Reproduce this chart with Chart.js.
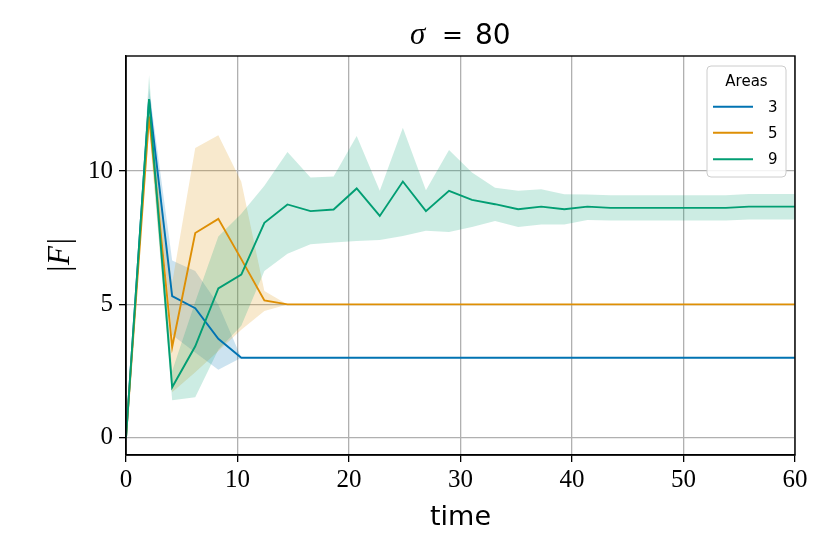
<!DOCTYPE html>
<html><head><meta charset="utf-8">
<script src="https://cdn.jsdelivr.net/npm/chart.js@4.4.0/dist/chart.umd.min.js"></script>
<style>html,body{margin:0;padding:0;background:#fff;}#wrap{width:830px;height:554px;}</style>
</head><body><div id="wrap"><canvas id="c" width="830" height="554"></canvas></div>
<script>
// ---- data ----
const times = [0, 2.07, 4.14, 6.21, 8.28, 10.34, 12.41, 14.48, 16.55, 18.62, 20.69, 22.76, 24.83, 26.9, 28.97,
  31.03, 33.1, 35.17, 37.24, 39.31, 41.38, 43.45, 45.52, 47.59, 49.66, 51.72, 53.79, 55.86, 57.93, 60];
const seriesLabels = ['3', '5', '9'];

const mean3  = [0, 12.7, 5.31, 4.86, 3.71, 3.0, 3.0, 3.0, 3.0, 3.0, 3.0, 3.0, 3.0, 3.0, 3.0, 3.0, 3.0, 3.0, 3.0, 3.0, 3.0, 3.0, 3.0, 3.0, 3.0, 3.0, 3.0, 3.0, 3.0, 3.0];
const upper3 = [0, 13.1, 6.65, 6.25, 5.0, 3.0, 3.0, 3.0, 3.0, 3.0, 3.0, 3.0, 3.0, 3.0, 3.0, 3.0, 3.0, 3.0, 3.0, 3.0, 3.0, 3.0, 3.0, 3.0, 3.0, 3.0, 3.0, 3.0, 3.0, 3.0];
const lower3 = [0, 12.3, 3.85, 3.2, 2.55, 3.0, 3.0, 3.0, 3.0, 3.0, 3.0, 3.0, 3.0, 3.0, 3.0, 3.0, 3.0, 3.0, 3.0, 3.0, 3.0, 3.0, 3.0, 3.0, 3.0, 3.0, 3.0, 3.0, 3.0, 3.0];

const mean5  = [0, 12.05, 3.4, 7.68, 8.21, 6.7, 5.15, 5.0, 5.0, 5.0, 5.0, 5.0, 5.0, 5.0, 5.0, 5.0, 5.0, 5.0, 5.0, 5.0, 5.0, 5.0, 5.0, 5.0, 5.0, 5.0, 5.0, 5.0, 5.0, 5.0];
const upper5 = [0, 12.5, 5.8, 10.87, 11.35, 9.6, 5.5, 5.0, 5.0, 5.0, 5.0, 5.0, 5.0, 5.0, 5.0, 5.0, 5.0, 5.0, 5.0, 5.0, 5.0, 5.0, 5.0, 5.0, 5.0, 5.0, 5.0, 5.0, 5.0, 5.0];
const lower5 = [0, 11.6, 1.7, 2.45, 3.25, 4.05, 4.75, 5.0, 5.0, 5.0, 5.0, 5.0, 5.0, 5.0, 5.0, 5.0, 5.0, 5.0, 5.0, 5.0, 5.0, 5.0, 5.0, 5.0, 5.0, 5.0, 5.0, 5.0, 5.0, 5.0];

const mean9  = [0, 12.7, 1.89, 3.43, 5.6, 6.12, 8.06, 8.75, 8.5, 8.56, 9.35, 8.32, 9.61, 8.5, 9.26, 8.92, 8.76, 8.57, 8.67, 8.57, 8.67, 8.62, 8.62, 8.62, 8.62, 8.62, 8.62, 8.67, 8.67, 8.67];
const upper9 = [0, 13.6, 2.5, 5.1, 7.55, 8.4, 9.45, 10.72, 9.76, 9.8, 11.32, 9.26, 11.63, 9.28, 10.79, 9.95, 9.38, 9.26, 9.32, 9.13, 9.12, 9.1, 9.1, 9.1, 9.1, 9.1, 9.1, 9.14, 9.14, 9.14];
const lower9 = [0, 11.9, 1.4, 1.52, 3.3, 4.2, 6.25, 6.9, 7.26, 7.32, 7.38, 7.42, 7.57, 7.76, 7.72, 7.9, 8.13, 7.9, 8.0, 8.0, 8.17, 8.15, 8.15, 8.15, 8.15, 8.15, 8.15, 8.19, 8.19, 8.19];

const xTicks = [0, 10, 20, 30, 40, 50, 60];
const yTicks = [0, 5, 10];
const titleSymbol = 'σ';
const titleEq = '=';
const titleValue = '80';
const xTitle = 'time';
const yTitle = '|F|';
const legendTitle = 'Areas';

// ---- styles ----
const lineColors = ['#0173b2', '#de8f05', '#029e73'];
const bandColors = ['rgba(1,115,178,0.2)', 'rgba(222,143,5,0.2)', 'rgba(2,158,115,0.2)'];

const means = [mean3, mean5, mean9];
const uppers = [upper3, upper5, upper9];
const lowers = [lower3, lower5, lower9];
const pts = arr => arr.map((v, i) => ({x: times[i], y: v}));

const datasets = [];
for (let k = 0; k < 3; k++) {
  datasets.push({label: 'band-upper-' + seriesLabels[k], data: pts(uppers[k]), fill: '+1', backgroundColor: bandColors[k],
    borderWidth: 0, borderColor: 'rgba(0,0,0,0)', pointRadius: 0, order: 20 - k});
  datasets.push({label: 'band-lower-' + seriesLabels[k], data: pts(lowers[k]), fill: false,
    borderWidth: 0, borderColor: 'rgba(0,0,0,0)', pointRadius: 0, order: 20 - k});
}
for (let k = 0; k < 3; k++) {
  datasets.push({label: seriesLabels[k], data: pts(means[k]), fill: false, borderColor: lineColors[k],
    backgroundColor: lineColors[k], borderWidth: 1.9, pointRadius: 0, order: 2 - k});
}

const decor = {
  id: 'decor',
  afterDatasetsDraw(chart) {
    const ctx = chart.ctx, a = chart.chartArea;
    ctx.save();
    ctx.strokeStyle = '#000'; ctx.lineWidth = 1.4;
    ctx.strokeRect(a.left, a.top, a.right - a.left, a.bottom - a.top);
    // legend
    const bx = 707, by = 66, bw = 79, bh = 111, r = 4;
    ctx.beginPath();
    ctx.moveTo(bx + r, by); ctx.lineTo(bx + bw - r, by); ctx.quadraticCurveTo(bx + bw, by, bx + bw, by + r);
    ctx.lineTo(bx + bw, by + bh - r); ctx.quadraticCurveTo(bx + bw, by + bh, bx + bw - r, by + bh);
    ctx.lineTo(bx + r, by + bh); ctx.quadraticCurveTo(bx, by + bh, bx, by + bh - r);
    ctx.lineTo(bx, by + r); ctx.quadraticCurveTo(bx, by, bx + r, by); ctx.closePath();
    ctx.fillStyle = 'rgba(255,255,255,0.85)'; ctx.fill();
    ctx.strokeStyle = '#cccccc'; ctx.lineWidth = 1; ctx.stroke();
    ctx.fillStyle = '#000'; ctx.textBaseline = 'middle';
    ctx.font = '15px "DejaVu Sans"'; ctx.textAlign = 'center';
    ctx.fillText(legendTitle, 746.5, 82.5);
    const ys = [106.7, 132.7, 159.3];
    ctx.textAlign = 'left';
    for (let k = 0; k < 3; k++) {
      ctx.strokeStyle = lineColors[k]; ctx.lineWidth = 1.9;
      ctx.beginPath(); ctx.moveTo(713, ys[k]); ctx.lineTo(753, ys[k]); ctx.stroke();
      ctx.fillText(seriesLabels[k], 768, ys[k] + 1);
    }
    ctx.restore();
  },
  afterDraw(chart) {
    const ctx = chart.ctx;
    ctx.save();
    ctx.fillStyle = '#000'; ctx.textBaseline = 'alphabetic'; ctx.textAlign = 'left';
    ctx.font = 'italic 31px "Liberation Serif"';
    ctx.fillText(titleSymbol, 410, 44);
    ctx.font = '25px "DejaVu Sans"';
    ctx.fillText(titleEq, 442, 43);
    ctx.font = '28px "DejaVu Sans"';
    ctx.fillText(titleValue, 475, 44);
    ctx.restore();
  }
};

new Chart(document.getElementById('c'), {
  type: 'line',
  data: {datasets},
  options: {
    responsive: false, animation: false,
    layout: {padding: {left: 0, right: 35, top: 56, bottom: 0}},
    plugins: {legend: {display: false}, tooltip: {enabled: false}, title: {display: false}},
    scales: {
      x: {
        type: 'linear', min: 0, max: 60,
        afterBuildTicks: s => { s.ticks = xTicks.map(v => ({value: v})); },
        afterFit: s => { s.height = 99; },
        grid: {color: '#b0b0b0', lineWidth: 1.3, drawTicks: true, tickLength: 7, tickColor: '#000', tickWidth: 1.3},
        border: {display: true, color: '#000', width: 1.4},
        ticks: {font: {family: 'Liberation Serif', size: 25}, color: '#000', padding: 3, maxRotation: 0},
        title: {display: true, text: xTitle, font: {family: 'DejaVu Sans', size: 27}, color: '#000', padding: {top: 0, bottom: 20}}
      },
      y: {
        type: 'linear', min: -0.65, max: 14.32,
        afterBuildTicks: s => { s.ticks = yTicks.map(v => ({value: v})); },
        afterFit: s => { s.width = 126; },
        grid: {color: '#b0b0b0', lineWidth: 1.3, drawTicks: true, tickLength: 7, tickColor: '#000', tickWidth: 1.3},
        border: {display: true, color: '#000', width: 1.4},
        ticks: {font: {family: 'Liberation Serif', size: 25}, color: '#000', padding: 6},
        title: {display: true, text: yTitle, font: {family: 'Liberation Serif', size: 31, style: 'italic'}, color: '#000', padding: {top: 42, bottom: 0}}
      }
    }
  },
  plugins: [decor]
});
</script>
</body></html>
